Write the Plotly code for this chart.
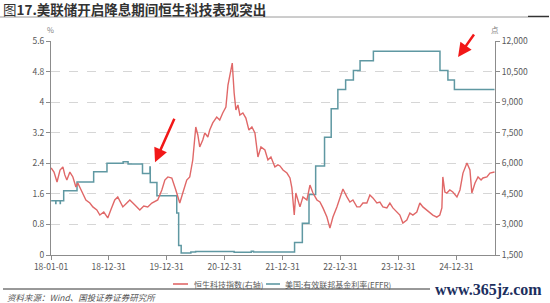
import plotly.graph_objects as go

# ---------------- data ----------------
hstech_dates = [
    "2018-01-02","2018-01-20","2018-02-08","2018-02-27","2018-03-17","2018-03-29","2018-04-11","2018-04-30",
    "2018-05-19","2018-06-07","2018-06-19","2018-07-08","2018-07-27","2018-08-09","2018-09-03","2018-09-22",
    "2018-10-17","2018-11-05","2018-11-30","2018-12-25","2019-01-13","2019-02-07","2019-02-26","2019-03-17",
    "2019-03-30","2019-04-24","2019-05-13","2019-06-14","2019-07-15","2019-08-09","2019-09-03","2019-09-29",
    "2019-11-05","2019-12-01","2019-12-20","2020-01-08","2020-02-02","2020-02-27","2020-03-23","2020-04-11",
    "2020-05-06","2020-05-25","2020-06-13","2020-07-02","2020-07-15","2020-07-27","2020-08-15","2020-08-28",
    "2020-09-16","2020-09-28","2020-10-17","2020-11-11","2020-11-30","2020-12-19","2021-01-08","2021-01-21",
    "2021-02-02","2021-02-17","2021-03-01","2021-03-12","2021-03-25","2021-04-06","2021-04-25","2021-05-14",
    "2021-06-02","2021-06-21","2021-07-10","2021-07-29","2021-08-17","2021-09-11","2021-09-30","2021-10-19",
    "2021-11-13","2021-12-02","2021-12-15","2022-01-03","2022-01-28","2022-02-16","2022-02-28","2022-03-15",
    "2022-03-25","2022-04-20","2022-05-09","2022-06-03","2022-06-22","2022-07-11","2022-08-05","2022-08-24",
    "2022-09-12","2022-10-07","2022-10-26","2022-11-14","2022-12-09","2022-12-28","2023-01-16","2023-02-10",
    "2023-03-01","2023-03-20","2023-04-14","2023-05-03","2023-05-22","2023-06-16","2023-07-05","2023-07-24",
    "2023-08-18","2023-09-06","2023-09-25","2023-10-20","2023-11-08","2023-11-27","2023-12-22","2024-01-10",
    "2024-01-29","2024-02-23","2024-03-13","2024-04-01","2024-04-26","2024-05-15","2024-06-03","2024-06-28",
    "2024-07-17","2024-08-05","2024-08-30","2024-09-18","2024-10-01","2024-10-07","2024-10-20","2024-11-01",
    "2024-11-20","2024-12-09","2025-01-04","2025-01-23","2025-02-11","2025-02-24","2025-03-08","2025-03-27",
    "2025-04-08","2025-04-28","2025-05-17","2025-06-05","2025-06-17","2025-07-12","2025-07-31","2025-08-29",
]
hstech_values = [
    5770,5570,5080,5670,5820,5430,5180,5570,
    5330,4840,5030,4690,4440,4200,4050,3860,
    3710,3460,3610,3320,3710,4200,4350,4100,
    3860,4050,4200,3950,3710,3900,3860,4050,
    4200,4690,5180,5330,5280,4690,4050,4540,
    5180,5330,6160,7780,7390,6800,7140,7490,
    7290,7630,7980,8270,8120,8470,8760,9840,
    10330,10920,9450,8620,8860,8370,8470,8220,
    7630,7780,7490,6310,6800,6650,6160,6310,
    5820,5920,5870,5670,5520,5280,4790,3460,
    4540,3860,4350,4200,4930,4540,4200,4100,
    3810,3360,2820,3360,3860,4350,4740,4350,
    4100,4200,3860,3860,4050,4050,4440,4300,
    4050,4100,3860,3810,4050,3810,3610,3460,
    3070,3220,3560,3460,3610,4050,3860,3710,
    3610,3460,3360,3460,3810,5330,4590,4540,
    4690,4590,4350,4690,5520,5770,6010,5670,
    4540,5030,5330,5180,5280,5330,5520,5570,
]

effr_dates = [
    "2018-01-02","2018-01-31","2018-02-01","2018-02-28","2018-03-01","2018-03-22","2018-06-14","2018-09-27",
    "2018-12-20","2019-04-01","2019-05-02","2019-08-01","2019-09-17","2019-09-19","2019-10-31","2020-03-04",
    "2020-03-16","2020-04-01","2020-06-01","2020-07-01","2021-03-01","2021-06-17","2021-07-01","2022-03-17",
    "2022-05-05","2022-06-16","2022-07-28","2022-09-22","2022-11-03","2022-12-15","2023-02-02","2023-03-23",
    "2023-05-04","2023-07-27","2024-09-19","2024-11-08","2024-12-19","2025-08-29",
]
effr_values = [
    1.42,1.35,1.42,1.35,1.42,1.68,1.91,2.18,
    2.40,2.44,2.38,2.13,2.30,1.90,1.55,1.10,
    0.25,0.05,0.08,0.09,0.07,0.10,0.08,0.33,
    0.83,1.58,2.33,3.08,3.83,4.33,4.58,4.83,
    5.08,5.33,4.83,4.58,4.33,4.33,
]

series_names = ["恒生科技指数(右轴)", "美国:有效联邦基金利率(EFFR)"]

x_tickvals = ["2018-01-01","2018-12-31","2019-12-31","2020-12-31","2021-12-31","2022-12-31","2023-12-31","2024-12-31"]
x_ticktext = ["18-01-01","18-12-31","19-12-31","20-12-31","21-12-31","22-12-31","23-12-31","24-12-31"]
left_ticks = [0, 0.8, 1.6, 2.4, 3.2, 4, 4.8, 5.6]
left_ticktext = ["0", "0.8", "1.6", "2.4", "3.2", "4", "4.8", "5.6"]
right_ticks = [1500, 3000, 4500, 6000, 7500, 9000, 10500, 12000]
right_ticktext = ["1,500", "3,000", "4,500", "6,000", "7,500", "9,000", "10,500", "12,000"]

# ---------------- layout helpers ----------------
W, H = 550, 303
L, R, T, B = 51, 55, 41, 48
PW, PH = W - L - R, H - T - B

def px(x):
    return (x - L) / PW

def py(y):
    return (H - B - y) / PH

FONT = "Noto Sans CJK SC"
GRAY = "#595959"
AXIS = "#8c8c8c"
RED = "#E06868"
TEAL = "#5F98A2"

fig = go.Figure()
fig.add_trace(go.Scatter(
    x=hstech_dates, y=hstech_values, mode="lines", name=series_names[0],
    line=dict(color=RED, width=1.4), yaxis="y2",
))
fig.add_trace(go.Scatter(
    x=effr_dates, y=effr_values, mode="lines", name=series_names[1],
    line=dict(color=TEAL, width=1.5, shape="hv"), yaxis="y",
))

fig.update_layout(
    width=W, height=H,
    margin=dict(l=L, r=R, t=T, b=B),
    paper_bgcolor="white", plot_bgcolor="white",
    font=dict(family=FONT, size=9, color=GRAY),
    showlegend=False,
    xaxis=dict(
        type="date", range=["2018-01-01", "2025-09-01"],
        tickvals=x_tickvals, ticktext=x_ticktext, tickangle=0,
        showline=True, linecolor=AXIS, linewidth=1, ticks="outside", ticklen=4, tickcolor=AXIS,
        showgrid=False, zeroline=False, tickfont=dict(size=8.5, color=GRAY), automargin=False,
    ),
    yaxis=dict(
        range=[0, 5.6], tickvals=left_ticks, ticktext=left_ticktext,
        showline=True, linecolor=AXIS, linewidth=1, ticks="outside", ticklen=4, tickcolor=AXIS,
        showgrid=True, gridcolor="#d6d6d6", griddash="dash", gridwidth=1, zeroline=False,
        tickfont=dict(size=8.5, color=GRAY), automargin=False,
    ),
    yaxis2=dict(
        range=[1500, 12000], tickvals=right_ticks, ticktext=right_ticktext,
        overlaying="y", side="right",
        showline=True, linecolor=AXIS, linewidth=1, ticks="outside", ticklen=4, tickcolor=AXIS,
        showgrid=False, zeroline=False, tickfont=dict(size=8.5, color=GRAY), automargin=False,
    ),
)

annotations = [
    dict(text="图<b>17.美联储开启降息期间恒生科技表现突出</b>", xref="paper", yref="paper",
         x=px(1), y=py(9), xanchor="left", yanchor="middle", showarrow=False,
         font=dict(family=FONT, size=13.5, color="#333333")),
    dict(text="%", xref="paper", yref="paper", x=px(50), y=py(29), xanchor="center", yanchor="middle",
         showarrow=False, font=dict(size=7.5, color="#808080")),
    dict(text="点", xref="paper", yref="paper", x=px(495), y=py(29), xanchor="center", yanchor="middle",
         showarrow=False, font=dict(size=7.5, color="#808080")),
    # legend texts
    dict(text=series_names[0], xref="paper", yref="paper", x=px(192), y=py(284), xanchor="left",
         yanchor="middle", showarrow=False, font=dict(size=8, color=GRAY)),
    dict(text=series_names[1], xref="paper", yref="paper", x=px(283), y=py(284), xanchor="left",
         yanchor="middle", showarrow=False, font=dict(size=8, color=GRAY)),
    dict(text="资料来源：Wind、国投证券证券研究所", xref="paper", yref="paper", x=px(5), y=py(297),
         xanchor="left", yanchor="middle", showarrow=False,
         font=dict(size=8.5, color="#555555", style="italic")),
    dict(text="<b>www.365jz.com</b>", xref="paper", yref="paper", x=px(488), y=py(290),
         xanchor="center", yanchor="middle", showarrow=False,
         font=dict(family="Liberation Serif", size=16, color="#1c2f5e")),
    # red arrows
    dict(x="2019-10-19", y=2.43, xref="x", yref="y", ax=20, ay=-45, text="", showarrow=True,
         arrowhead=2, arrowsize=1.1, arrowwidth=2.5, arrowcolor="#F21818"),
    dict(x="2025-01-11", y=5.18, xref="x", yref="y", ax=17, ay=-24, text="", showarrow=True,
         arrowhead=2, arrowsize=1.1, arrowwidth=2.5, arrowcolor="#F21818"),
]
fig.update_layout(annotations=annotations)

shapes = [
    dict(type="line", xref="paper", yref="paper", x0=px(0), x1=px(528), y0=py(17), y1=py(17),
         line=dict(color="#9a9a9a", width=1)),
    dict(type="line", xref="paper", yref="paper", x0=px(528), x1=px(549), y0=py(16.5), y1=py(16.5),
         line=dict(color="#333333", width=1.5)),
    # legend samples
    dict(type="line", xref="paper", yref="paper", x0=px(173), x1=px(188), y0=py(284), y1=py(284),
         line=dict(color=RED, width=1.6)),
    dict(type="line", xref="paper", yref="paper", x0=px(266), x1=px(280), y0=py(284), y1=py(284),
         line=dict(color=TEAL, width=1.6)),
    # separator
    dict(type="line", xref="paper", yref="paper", x0=px(3), x1=px(430), y0=py(289), y1=py(289),
         line=dict(color="#333333", width=1)),
]
fig.update_layout(shapes=shapes)

fig.write_html("out.html")
